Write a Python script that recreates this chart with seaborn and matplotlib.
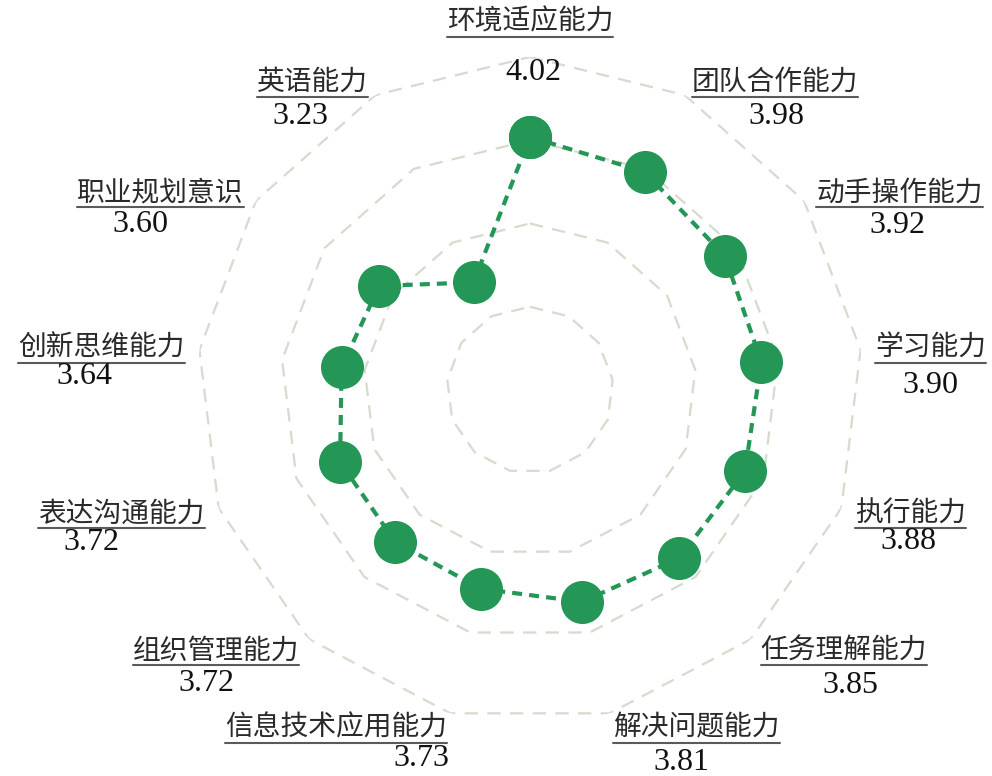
import numpy as np
import pandas as pd
import matplotlib
matplotlib.use('Agg')
import matplotlib.pyplot as plt
import seaborn as sns
from matplotlib.lines import Line2D

# ---------------- data ----------------
categories = ['环境适应能力', '团队合作能力', '动手操作能力', '学习能力', '执行能力',
              '任务理解能力', '解决问题能力', '信息技术应用能力', '组织管理能力',
              '表达沟通能力', '创新思维能力', '职业规划意识', '英语能力']
scores = [4.02, 3.98, 3.92, 3.90, 3.88, 3.85, 3.81, 3.73, 3.72, 3.72, 3.64, 3.60, 3.23]
ring_levels = [3.0, 3.5, 4.0, 4.5]
r_min, r_max = 2.5, 4.5

# ---------------- layout (pixels) ----------------
value_dx = [3, 85, 81, 55, 53, 90, 68, -25, -93, -113, -100, -103, -68]
value_dy = [50, 35, 33, 37, 28, 35, 35, 31, 33, 29, 28, 32, 35]

sns.set_theme(style='white')
plt.rcParams['font.family'] = ['Noto Sans CJK SC', 'DejaVu Sans']

W, H = 992, 776
fig = plt.figure(figsize=(W / 100, H / 100), dpi=100)
cx, cy, R = 530, 390, 333
ax = fig.add_axes([(cx - R) / W, (H - cy - R) / H, 2 * R / W, 2 * R / H], projection='polar')
ax.set_theta_zero_location('N')
ax.set_theta_direction(-1)

n = len(categories)
theta = np.linspace(0, 2 * np.pi, n, endpoint=False)
th_closed = np.append(theta, 2 * np.pi)

grid_color = '#d3dccd'
for lv in ring_levels:
    ax.plot(th_closed, [lv] * (n + 1), color=grid_color, lw=1.6,
            linestyle=(0, (6.0, 4.2)), zorder=1)

df = pd.DataFrame({'theta': th_closed, 'score': scores + [scores[0]]})
green = '#249656'
sns.lineplot(data=df, x='theta', y='score', ax=ax, sort=False, color=green,
             lw=3, linestyle=(0, (2.4, 1.7)), marker='o', markersize=31,
             markeredgewidth=0, markerfacecolor=green, zorder=3)

ax.set_ylim(r_min, r_max)
ax.set_xlabel('')
ax.set_ylabel('')
ax.axis('off')

fig.canvas.draw()
renderer = fig.canvas.get_renderer()

for i, (lab, val, t) in enumerate(zip(categories, scores, theta)):
    vx, vy = ax.transData.transform((t, r_max))
    s, c = np.sin(t), np.cos(t)
    if abs(s) < 0.1:
        lx, ly = vx, vy + 35
        ha = 'center'
    else:
        lx, ly = vx + 15 * s, vy + 15 * c
        ha = 'left' if s > 0 else 'right'
    txt = fig.text(lx / W, ly / H, lab, ha=ha, va='center', fontsize=20,
                   color='#2a2a2a')
    bb = txt.get_window_extent(renderer)
    uy = ly - 15
    fig.add_artist(Line2D([bb.x0 / W, bb.x1 / W], [uy / H, uy / H],
                          transform=fig.transFigure, color='#5a5a5a', lw=1.5))
    if ha == 'left':
        vxx = bb.x0 + value_dx[i]
    elif ha == 'right':
        vxx = bb.x1 + value_dx[i]
    else:
        vxx = lx + value_dx[i]
    fig.text(vxx / W, (ly - value_dy[i]) / H, f'{val:.2f}', ha='center', va='center',
             fontsize=23, family='Liberation Serif', color='#111111')

fig.savefig('out.png', dpi=100)
